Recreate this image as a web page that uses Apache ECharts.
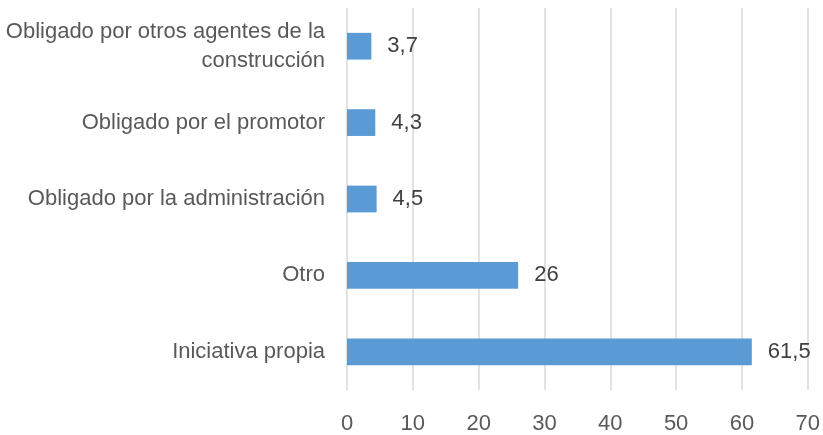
<!DOCTYPE html>
<html>
<head>
<meta charset="utf-8">
<script src="https://cdn.jsdelivr.net/npm/echarts@6/dist/echarts.min.js"></script>
<style>
    html, body { margin: 0; padding: 0; background: #fff; }
    #chart { width: 823px; height: 435px; }
</style>
</head>
<body>
<div id="chart"></div>
<script>
    // bottom to top, as the category axis draws them
    var categories = [
        'Iniciativa propia',
        'Otro',
        'Obligado por la administración',
        'Obligado por el promotor',
        'Obligado por otros agentes de la\nconstrucción'
    ]
    var values = [61.5, 26, 4.5, 4.3, 3.7]

    var textColor = '#595959'
    var font = 'Liberation Sans'

    var chart = echarts.init(document.getElementById('chart'))
    chart.setOption({
        animation: false,
        grid: {
            left: 347,
            right: 14,
            top: 8,
            bottom: 43
        },
        xAxis: {
            type: 'value',
            min: 0,
            max: 70,
            interval: 10,
            axisLine: { show: false },
            axisTick: { show: false },
            axisLabel: {
                color: textColor,
                fontSize: 22,
                fontFamily: font,
                margin: 23
            },
            splitLine: {
                lineStyle: { color: '#d9d9d9', width: 1.5 }
            }
        },
        yAxis: {
            type: 'category',
            data: categories,
            axisLine: { show: false },
            axisTick: { show: false },
            axisLabel: {
                color: textColor,
                fontSize: 22,
                fontFamily: font,
                margin: 22,
                align: 'right',
                lineHeight: 29
            }
        },
        series: [
            {
                type: 'bar',
                data: values,
                barWidth: '35%',
                itemStyle: { color: '#5b9bd5' },
                label: {
                    show: true,
                    position: 'right',
                    distance: 16,
                    color: '#404040',
                    fontSize: 22,
                    fontFamily: font,
                    formatter: function (p) {
                        return String(p.value).replace('.', ',')
                    }
                }
            }
        ]
    })
</script>
</body>
</html>
